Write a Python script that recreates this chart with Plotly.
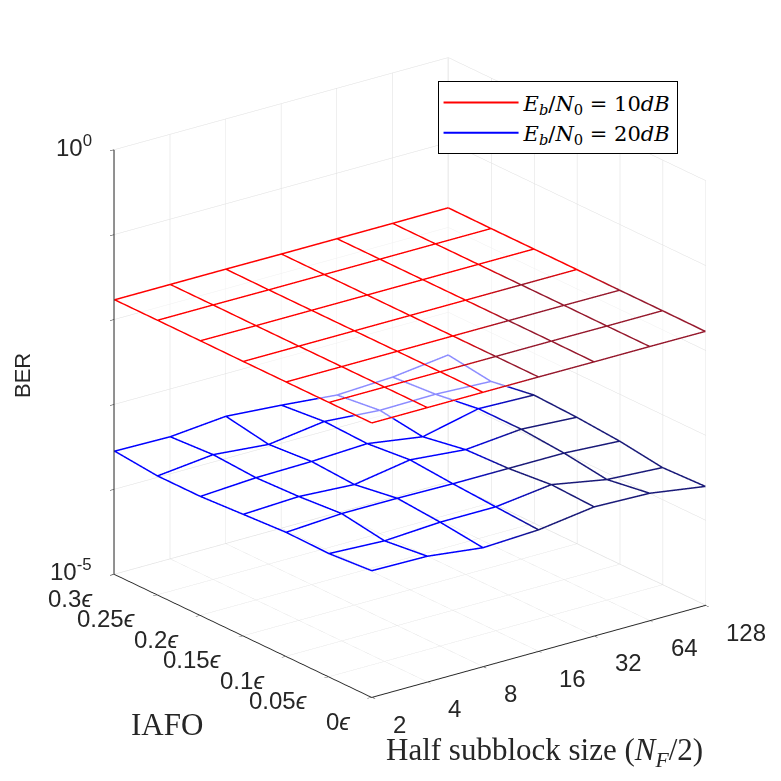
import numpy as np
import plotly.graph_objs as go


# half subblock size (x), IAFO in units of epsilon (y)
half_subblock = [2, 4, 8, 16, 32, 64, 128]
iafo = [0, 0.05, 0.1, 0.15, 0.2, 0.25, 0.3]
iafo_labels = ["0<i>\u03f5</i>", "0.05<i>\u03f5</i>", "0.1<i>\u03f5</i>", "0.15<i>\u03f5</i>",
               "0.2<i>\u03f5</i>", "0.25<i>\u03f5</i>", "0.3<i>\u03f5</i>"]

# BER, rows = IAFO, cols = half subblock size
ber_10db = [
    [0.0170, 0.0170, 0.0170, 0.0170, 0.0169, 0.0169, 0.0168],
    [0.0170, 0.0170, 0.0170, 0.0170, 0.0170, 0.0169, 0.0169],
    [0.0170, 0.0170, 0.0170, 0.0170, 0.0170, 0.0170, 0.0169],
    [0.0170, 0.0170, 0.0170, 0.0170, 0.0170, 0.0170, 0.0170],
    [0.0171, 0.0170, 0.0170, 0.0170, 0.0170, 0.0170, 0.0170],
    [0.0171, 0.0171, 0.0170, 0.0170, 0.0170, 0.0170, 0.0170],
    [0.0171, 0.0171, 0.0171, 0.0170, 0.0170, 0.0170, 0.0171],
]
ber_20db = [
    [3.09e-4, 3.02e-4, 2.51e-4, 2.69e-4, 3.31e-4, 3.16e-4, 2.51e-4],
    [2.82e-4, 2.63e-4, 2.88e-4, 2.88e-4, 3.47e-4, 2.63e-4, 2.40e-4],
    [2.88e-4, 3.16e-4, 3.16e-4, 3.09e-4, 3.09e-4, 3.09e-4, 2.82e-4],
    [2.69e-4, 2.88e-4, 2.63e-4, 3.39e-4, 2.95e-4, 3.39e-4, 3.09e-4],
    [2.51e-4, 2.75e-4, 2.82e-4, 3.02e-4, 2.40e-4, 3.39e-4, 3.24e-4],
    [2.51e-4, 2.95e-4, 2.57e-4, 3.16e-4, 2.82e-4, 2.88e-4, 2.69e-4],
    [2.82e-4, 2.75e-4, 3.16e-4, 2.82e-4, 2.45e-4, 2.63e-4, 3.16e-4],
]
ber_ticks = [1e-5, 1e-4, 1e-3, 1e-2, 1e-1, 1]
ber_ticktext = ["10<sup>-5</sup>", "", "", "", "", "10<sup>0</sup>"]

names = ["<i>E<sub>b</sub></i>/<i>N</i><sub>0</sub> = 10<i>dB</i>",
         "<i>E<sub>b</sub></i>/<i>N</i><sub>0</sub> = 20<i>dB</i>"]
colors = ["rgb(255,0,0)", "rgb(0,0,255)"]
dark_colors = ["rgb(150,25,45)", "rgb(25,25,120)"]

tick_color = 'rgb(38,38,38)'
sans = 'Liberation Sans, Arial, sans-serif'
serif = 'Liberation Serif, Times New Roman, serif'


def shade(i, j, k):
    # the exported figure has a darker patch over the right part of the meshes
    if k == 0:
        return 1 if (i - 0.77 * j > 2.2 and 0.75 * i + j < 7.4) else 0
    return 1 if i - 0.77 * j > 2.3 else 0


def polyline(xs, ys, zs, cs, k):
    return go.Scatter3d(x=xs, y=ys, z=zs, mode='lines',
                        line=dict(color=cs, colorscale=[[0, colors[k]], [1, dark_colors[k]]],
                                  cmin=0, cmax=1, width=3),
                        showlegend=False, hoverinfo='skip')


def mesh_lines(x, y, z, k):
    # wireframe like matlab mesh: one polyline per row and per column
    z = np.array(z)
    out = []
    for j in range(len(y)):
        out.append(polyline(x, [y[j]] * len(x), z[j, :],
                            [shade(i, j, k) for i in range(len(x))], k))
    for i in range(len(x)):
        out.append(polyline([x[i]] * len(y), y, z[:, i],
                            [shade(i, j, k) for j in range(len(y))], k))
    return out


traces = []
# semi transparent white face of the upper mesh (fades what is behind it)
traces.append(go.Surface(x=half_subblock, y=iafo, z=np.array(ber_10db) * 0.96,
                         colorscale=[[0, 'white'], [1, 'white']], showscale=False,
                         opacity=0.55, hoverinfo='skip',
                         lighting=dict(ambient=1, diffuse=0, specular=0, fresnel=0, roughness=1)))
for k, z in enumerate([ber_10db, ber_20db]):
    traces += mesh_lines(half_subblock, iafo, z, k)

# legend entries
for n, c in zip(names, colors):
    traces.append(go.Scatter3d(x=[None], y=[None], z=[None], mode='lines',
                               line=dict(color=c, width=2), name=n))

axis_common = dict(
    showbackground=False,
    showgrid=True,
    gridcolor='rgb(222,222,222)',
    gridwidth=1,
    showline=True,
    linecolor=tick_color,
    linewidth=2,
    ticks='outside',
    ticklen=5,
    tickcolor=tick_color,
    showticklabels=False,
    zeroline=False,
    showspikes=False,
    title=dict(text=''),
)

# tick labels, matlab style (horizontal), attached to the axis edges
tick_font = dict(family=sans, size=24, color=tick_color)
scene_ann = []
for v in half_subblock:
    scene_ann.append(dict(x=np.log10(v), y=iafo[0], z=np.log10(ber_ticks[0]), text=str(v),
                          showarrow=False, xanchor='left', yanchor='middle',
                          xshift=19, yshift=-27, font=tick_font))
for v, t in zip(iafo, iafo_labels):
    scene_ann.append(dict(x=np.log10(half_subblock[0]), y=v, z=np.log10(ber_ticks[0]), text=t,
                          showarrow=False, xanchor='right', yanchor='middle',
                          xshift=-20, yshift=-24, font=tick_font))
for v, t in zip(ber_ticks, ber_ticktext):
    if t:
        scene_ann.append(dict(x=np.log10(half_subblock[0]), y=iafo[-1], z=np.log10(v), text=t,
                              showarrow=False, xanchor='right', yanchor='middle',
                              xshift=-20, yshift=4, font=tick_font))

eye_dir = np.array([-0.565, -0.744, 0.364])
eye_dir = eye_dir / np.linalg.norm(eye_dir) * 2.0

# tiny padding so the lines lying on the box faces are not clipped
pad_x = 0.002
pad_y = 0.0003

layout = go.Layout(
    width=781,
    height=781,
    margin=dict(l=0, r=0, t=0, b=0),
    paper_bgcolor='white',
    scene=dict(
        domain=dict(x=[0.029, 1], y=[0.054, 1]),
        xaxis=dict(axis_common, type='log',
                   range=[np.log10(half_subblock[0]) - pad_x, np.log10(half_subblock[-1]) + pad_x],
                   tickvals=half_subblock),
        yaxis=dict(axis_common, range=[iafo[0] - pad_y, iafo[-1] + pad_y], tickvals=iafo),
        zaxis=dict(axis_common, type='log', range=[-5, 0], tickvals=ber_ticks),
        aspectmode='manual',
        aspectratio=dict(x=1.136, y=1.153, z=1.233),
        camera=dict(
            projection=dict(type='orthographic'),
            eye=dict(x=eye_dir[0], y=eye_dir[1], z=eye_dir[2]),
            center=dict(x=0, y=0, z=0),
            up=dict(x=0, y=0, z=1),
        ),
        annotations=scene_ann,
    ),
    legend=dict(x=0.55, y=0.906, xanchor='left', yanchor='top', bgcolor='white',
                bordercolor='black', borderwidth=1, itemwidth=75, tracegroupgap=0,
                font=dict(family='DejaVu Serif, serif', size=21, color='black')),
    annotations=[
        dict(text='BER', x=15 / 781, y=1 - 367 / 781, xref='paper', yref='paper', showarrow=False,
             xanchor='center', yanchor='middle', textangle=-90,
             font=dict(family=sans, size=22, color=tick_color)),
        dict(text='IAFO', x=159 / 781, y=1 - 716 / 781, xref='paper', yref='paper', showarrow=False,
             xanchor='center', yanchor='middle',
             font=dict(family=serif, size=31, color=tick_color)),
        dict(text='Half subblock size (<i>N<sub>F</sub></i>/2)', x=536 / 781, y=1 - 744 / 781,
             xref='paper', yref='paper', showarrow=False, xanchor='center', yanchor='middle',
             font=dict(family=serif, size=31, color=tick_color)),
    ],
)

fig = go.Figure(data=traces, layout=layout)
fig.write_html("out.html")
